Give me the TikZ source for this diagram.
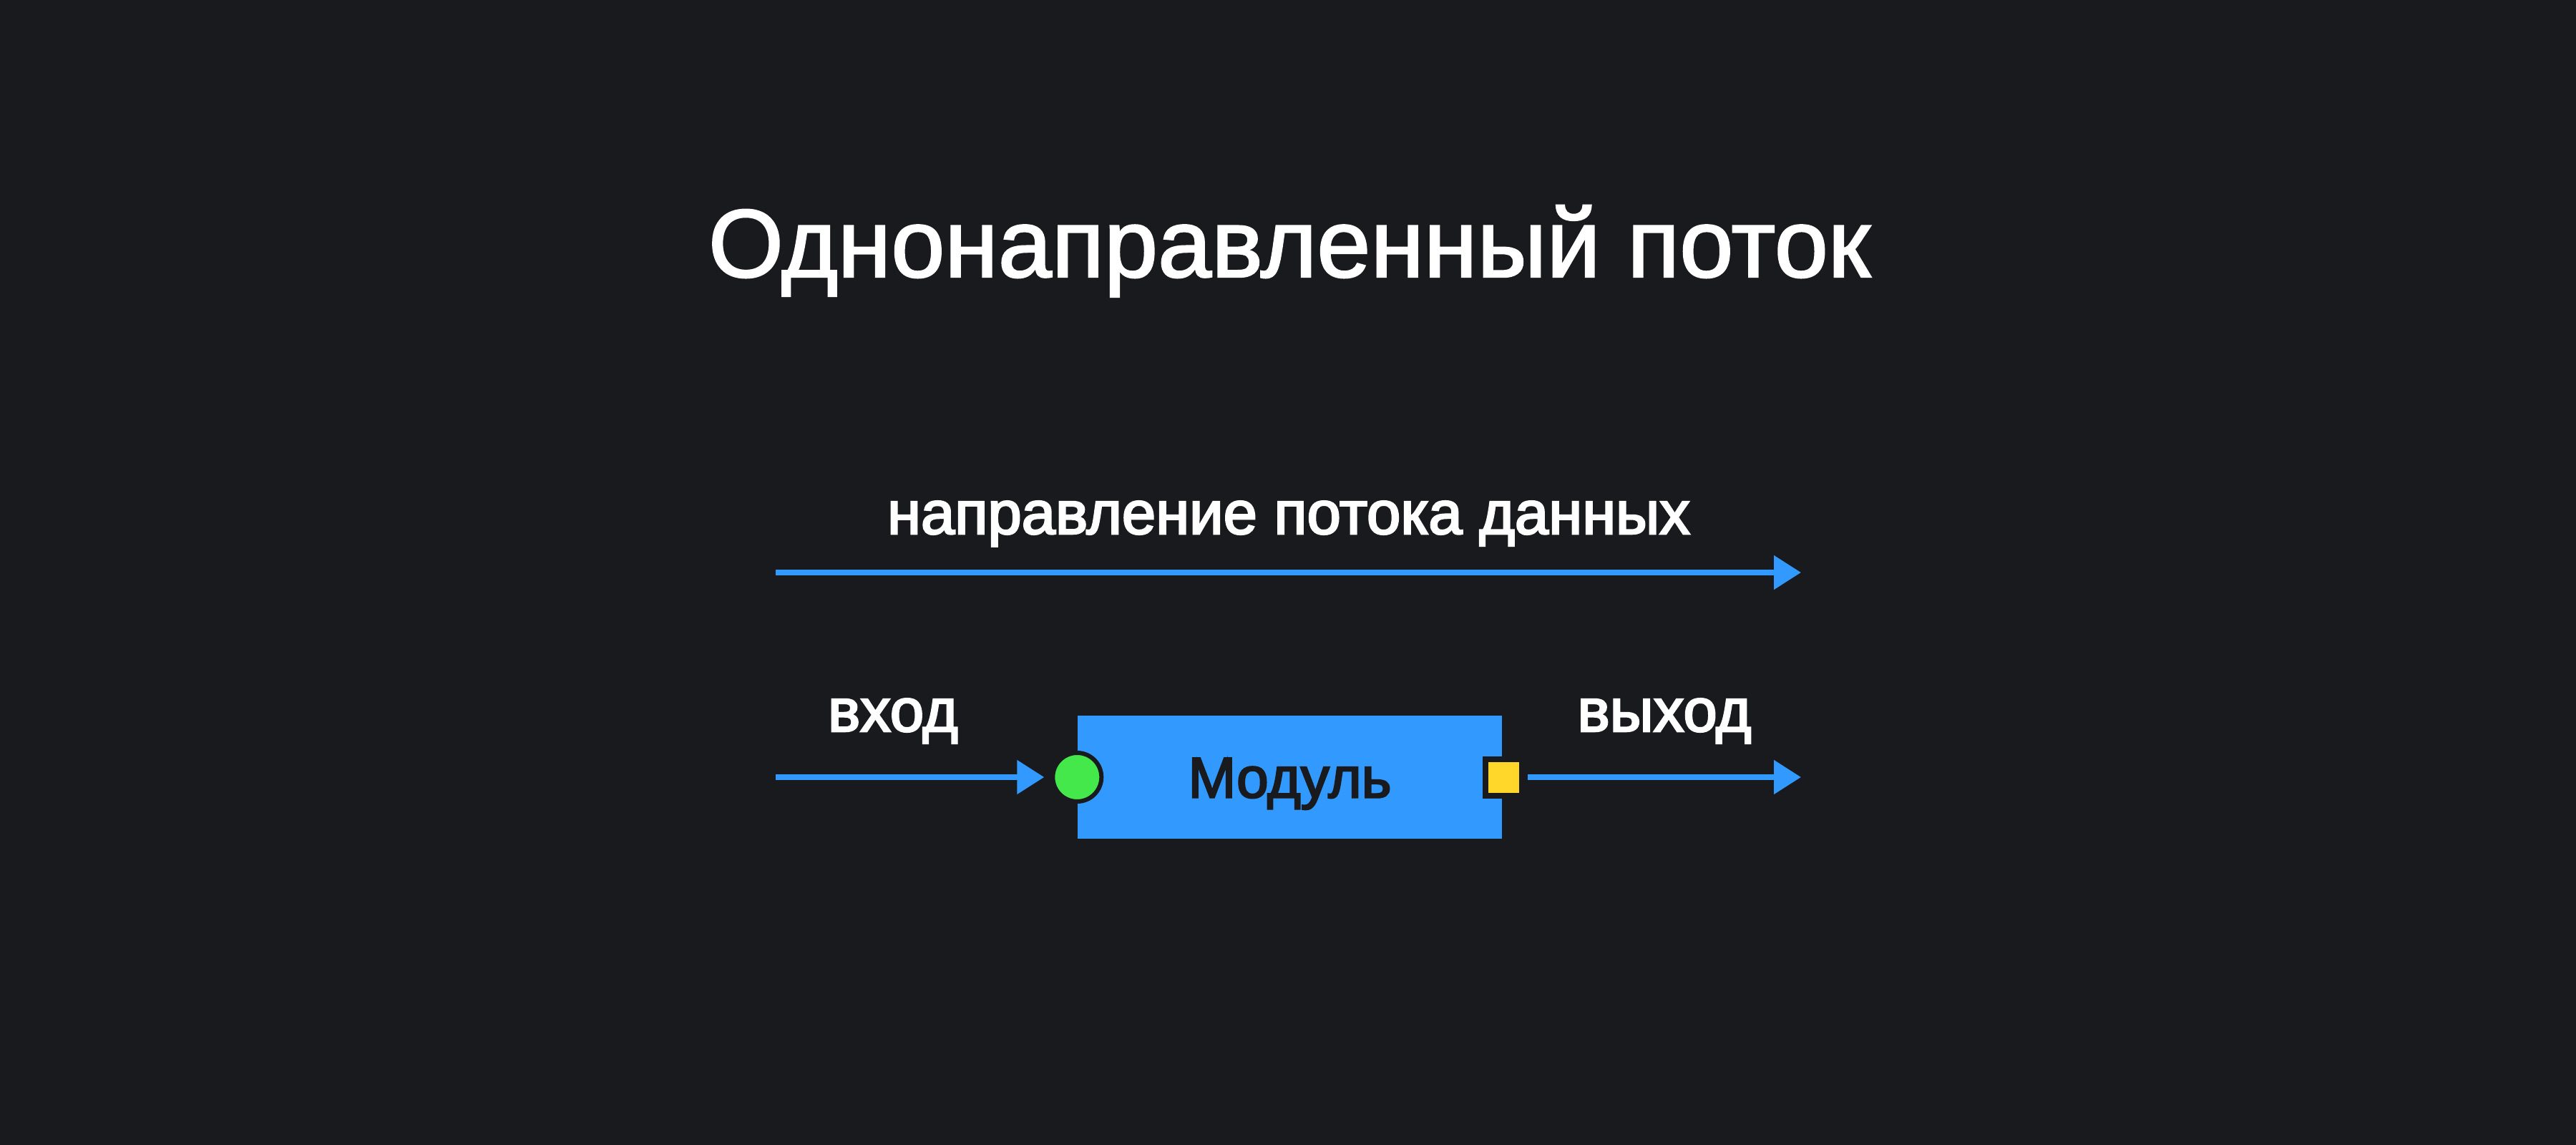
\documentclass[tikz,border=0pt]{standalone}
\usepackage{fontspec}
\setmainfont{Liberation Sans}
\newfontfamily\titlefont{Liberation Sans}[FakeBold=1.8]
\newfontfamily\labelfont{Liberation Sans}[FakeBold=3]
\usetikzlibrary{positioning}
\usetikzlibrary{arrows.meta}

\begin{document}
\begin{tikzpicture}[
        title/.style={anchor=base, text=white, inner sep=0pt, font=\titlefont\fontsize{38.4}{40}\selectfont},
        caption/.style={anchor=base, text=white, inner sep=0pt, font=\labelfont\fontsize{24.2}{26}\selectfont},
        flow/.style={draw=flowblue, line width=0.08cm, -{Triangle[length=0.38cm, width=0.46cm]}},
        module/.style={rectangle, fill=flowblue, minimum width=5.93cm, minimum height=1.72cm,
            text=bg, text height=0.57cm, text depth=0pt, font=\labelfont\fontsize{22.8}{24}\selectfont},
        inport/.style={circle, draw=bg, fill=portgreen, line width=0.06cm, minimum size=0.68cm, inner sep=0pt},
        outport/.style={rectangle, draw=bg, fill=portyellow, line width=0.08cm, minimum size=0.51cm, inner sep=0pt},
    ]
        \definecolor{bg}{RGB}{25,26,30}
        \definecolor{flowblue}{RGB}{50,154,255}
        \definecolor{portgreen}{RGB}{68,232,74}
        \definecolor{portyellow}{RGB}{255,214,41}

        % Background
        \fill[bg] (0,0) rectangle (36,-16);
        \useasboundingbox (0,0) rectangle (36,-16);

        % Title
        \node[title] (title) at (18.02,-3.87) {Однонаправленный поток};

        % Direction of flow
        \node[caption] (flowlabel) at (18.01,-7.46) {направление потока данных};
        \coordinate (flowstart) at (10.84,-8);
        \coordinate (flowend) at (25.17,-8);
        \draw[flow] (flowstart) -- (flowend);

        % Module with ports
        \node[module] (module) at (18.025,-10.86) {Модуль};
        \node[inport] (in) at (module.west) {};
        \node[outport] (out) at ([xshift=0.02cm]module.east) {};

        \node[caption] (inlabel) at (12.48,-10.22) {вход};
        \node[caption] (outlabel) at (23.26,-10.22) {выход};

        % Edges
        \coordinate (instart) at (10.84,-10.86);
        \coordinate (outend) at (25.17,-10.86);
        \draw[flow, shorten >=0.09cm] (instart) -- (in);
        \draw[flow, shorten <=0.04cm] (out) -- (outend);
    \end{tikzpicture}
\end{document}
